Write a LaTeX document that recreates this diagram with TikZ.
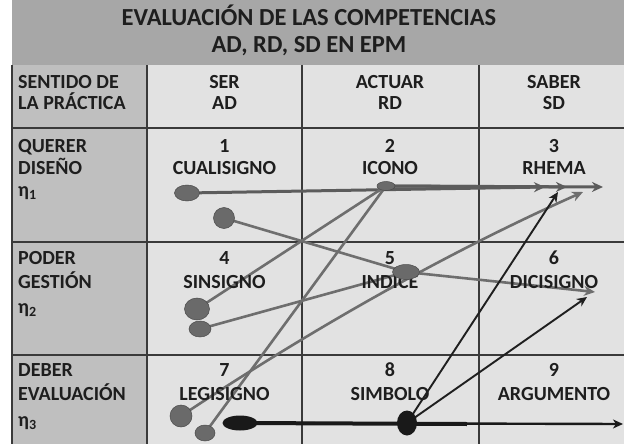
\documentclass[tikz,border=0pt]{standalone}
\usepackage{fontspec}
\setmainfont{Carlito}
\usetikzlibrary{arrows.meta,shapes.geometric}
\pgfdeclarelayer{bg}
\pgfdeclarelayer{lns}
\pgfsetlayers{bg,lns,main}
\definecolor{titlegray}{HTML}{A7A7A7}
\definecolor{colgray}{HTML}{BFBFBF}
\definecolor{cellgray}{HTML}{E2E2E2}
\definecolor{gridc}{HTML}{3A3A3A}
\definecolor{txtc}{HTML}{1E1E1E}
\definecolor{glin}{HTML}{6E6E6E}
\definecolor{hlin}{HTML}{5C5C5C}
\definecolor{blobc}{HTML}{6A6A6A}
\tikzset{
  x=1pt,y=-1pt,
  txt/.style={font=\bfseries\fontsize{20}{23}\selectfont, text=txtc, inner sep=0pt},
  ttl/.style={font=\bfseries\fontsize{24.5}{27}\selectfont, text=txtc, inner sep=0pt},
  blob/.style={ellipse, inner sep=0pt, fill=blobc, draw=blobc!70!black, line width=0.5pt},
  gln/.style={draw=glin, line width=2.6pt},
  hln/.style={draw=hlin, line width=3pt},
  bln/.style={draw=black!88, line width=1.9pt},
  garr/.style={-{Stealth[length=11pt,width=10pt,inset=3.5pt]}},
  barr/.style={-{Stealth[length=10pt,width=9pt,inset=3pt]}},
}
\begin{document}
\begin{tikzpicture}
\useasboundingbox (0,0) rectangle (624,444);
\begin{pgfonlayer}{bg}
  \fill[white] (0,0) rectangle (624,444);
  \fill[titlegray] (12,0) rectangle (624,65);
  \fill[colgray] (12,65) rectangle (147,444);
  \fill[cellgray] (147,65) rectangle (624,444);
  \draw[gridc, line width=1.2pt] (12,65) -- (12,444);
  \draw[gridc, line width=1.2pt] (147,65) -- (147,444);
  \draw[gridc, line width=1.2pt] (302,65) -- (302,444);
  \draw[gridc, line width=1.2pt] (479,65) -- (479,444);
  \draw[gridc, line width=2.2pt] (12,128) -- (624,128);
  \draw[gridc, line width=1.2pt] (12,242) -- (624,242);
  \draw[gridc, line width=1.2pt] (12,355) -- (624,355);
\end{pgfonlayer}

% title
\node[ttl, anchor=base] (t1) at (309,26) {EVALUACIÓN DE LAS COMPETENCIAS};
\node[ttl, anchor=base] (t2) at (309,53) {AD, RD, SD EN EPM};

% header
\node[txt, anchor=base west] (h1a) at (18,88.5) {SENTIDO DE};
\node[txt, anchor=base west] (h1b) at (18,110) {LA PRÁCTICA};
\node[txt, anchor=base] (h2a) at (224.5,88.5) {SER};
\node[txt, anchor=base] (h2b) at (224.5,110) {AD};
\node[txt, anchor=base] (h3a) at (390,88.5) {ACTUAR};
\node[txt, anchor=base] (h3b) at (390,110) {RD};
\node[txt, anchor=base] (h4a) at (554,88.5) {SABER};
\node[txt, anchor=base] (h4b) at (554,110) {SD};

% row labels
\node[txt, anchor=base west] (r1a) at (18,152) {QUERER};
\node[txt, anchor=base west] (r1b) at (18,174.5) {DISEÑO};
\node[txt, anchor=base west] (r1c) at (18,196) {η\textsubscript{1}};
\node[txt, anchor=base west] (r2a) at (18,264.5) {PODER};
\node[txt, anchor=base west] (r2b) at (18,288) {GESTIÓN};
\node[txt, anchor=base west] (r2c) at (18,313) {η\textsubscript{2}};
\node[txt, anchor=base west] (r3a) at (18,376.5) {DEBER};
\node[txt, anchor=base west] (r3b) at (18,400) {EVALUACIÓN};
\node[txt, anchor=base west] (r3c) at (18,426) {η\textsubscript{3}};

% cells
\node[txt, anchor=base] (n1) at (224.5,152.5) {1};
\node[txt, anchor=base] (s1) at (224.5,174.5) {CUALISIGNO};
\node[txt, anchor=base] (n2) at (390,152.5) {2};
\node[txt, anchor=base] (s2) at (390,174.5) {ICONO};
\node[txt, anchor=base] (n3) at (554,152.5) {3};
\node[txt, anchor=base] (s3) at (554,174.5) {RHEMA};
\node[txt, anchor=base] (n4) at (224.5,264.5) {4};
\node[txt, anchor=base] (s4) at (224.5,288) {SINSIGNO};
\node[txt, anchor=base] (n5) at (390,264.5) {5};
\node[txt, anchor=base] (s5) at (390,288) {INDICE};
\node[txt, anchor=base] (n6) at (554,264.5) {6};
\node[txt, anchor=base] (s6) at (554,288) {DICISIGNO};
\node[txt, anchor=base] (n7) at (224.5,376.5) {7};
\node[txt, anchor=base] (s7) at (224.5,400) {LEGISIGNO};
\node[txt, anchor=base] (n8) at (390,376.5) {8};
\node[txt, anchor=base] (s8) at (390,400) {SIMBOLO};
\node[txt, anchor=base] (n9) at (554,376.5) {9};
\node[txt, anchor=base] (s9) at (554,400) {ARGUMENTO};

% blobs
\node[blob, minimum width=25pt, minimum height=16pt] (e1) at (187,193) {};
\node[blob, minimum width=21pt, minimum height=21pt] (c1) at (224,218) {};
\node[blob, minimum width=18pt, minimum height=9pt] (e2) at (386,186) {};
\node[blob, minimum width=25pt, minimum height=22pt] (e4) at (197,309) {};
\node[blob, minimum width=22pt, minimum height=16pt] (c4) at (200,329) {};
\node[blob, minimum width=27pt, minimum height=15pt] (e5) at (406,272) {};
\node[blob, minimum width=22pt, minimum height=22pt] (c7) at (181,416) {};
\node[blob, minimum width=20pt, minimum height=16pt] (e7) at (205,433) {};
\node[ellipse, inner sep=0pt, fill=black!90, minimum width=35pt, minimum height=15pt] (k7) at (240,423) {};
\node[ellipse, inner sep=0pt, fill=black!90, minimum width=20pt, minimum height=25pt] (k8) at (407,423) {};

% free ends
\coordinate (r1) at (545,187);
\coordinate (r2) at (567,187);
\coordinate (r3) at (603,187);
\coordinate (g3) at (583,192);
\coordinate (b3) at (558,192);
\coordinate (g6) at (595,292);
\coordinate (b6) at (587,297);
\coordinate (b9) at (623,424);
\coordinate (m8) at (467,424);

\begin{pgfonlayer}{lns}
  \draw[hln, garr] (e2.center) -- (r3);
  \draw[hln, garr] (e2.center) -- (r2);
  \draw[hln, garr] (e1.center) -- (r1);
  \draw[gln] (c1.center) -- (e5.center);
  \draw[gln, garr] (e5.center) -- (g6);
  \draw[gln] (e4.center) -- (e2.center);
  \draw[gln] (c4.center) -- (e5.center);
  \draw[gln, garr] (c7.center) .. controls (321,323) and (455,249) .. (g3);
  \draw[gln] (e7.center) -- (e2.center);
  \draw[draw=black!90, line width=4pt] (k7.center) -- (m8);
  \draw[draw=black!90, line width=2.4pt, barr] (k7.center) -- (b9);
  \draw[bln, barr] (k8.center) -- (b3);
  \draw[bln, barr] (k8.center) -- (b6);
\end{pgfonlayer}
\end{tikzpicture}
\end{document}
